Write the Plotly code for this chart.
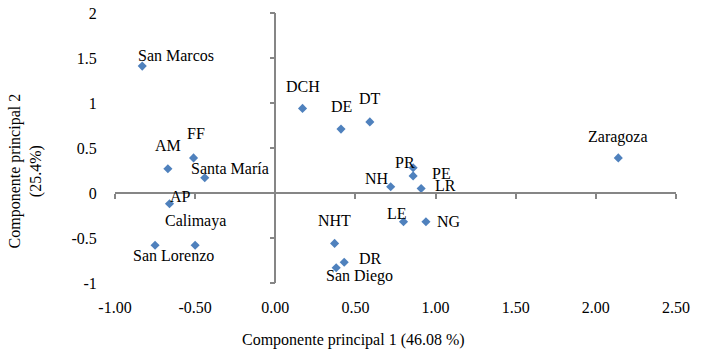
import plotly.graph_objects as go

# Data
names = ["San Marcos", "AM", "FF", "Santa María", "AP", "San Lorenzo", "Calimaya",
         "DCH", "DE", "DT", "PR", "PE", "NH", "LR", "LE", "NG", "NHT", "DR",
         "San Diego", "Zaragoza"]
pc1 = [-0.83, -0.67, -0.51, -0.44, -0.66, -0.75, -0.50,
       0.17, 0.41, 0.59, 0.86, 0.86, 0.72, 0.91, 0.80, 0.94, 0.37, 0.43,
       0.38, 2.14]
pc2 = [1.41, 0.27, 0.39, 0.17, -0.12, -0.58, -0.58,
       0.94, 0.71, 0.79, 0.28, 0.19, 0.07, 0.05, -0.32, -0.32, -0.56, -0.77,
       -0.83, 0.39]
x_ticks = [-1.0, -0.5, 0.0, 0.5, 1.0, 1.5, 2.0, 2.5]
y_ticks = [-1, -0.5, 0, 0.5, 1, 1.5, 2]
x_title = "Componente principal 1 (46.08 %)"
y_title = "Componente principal 2<br>(25.4%)"

# label offsets in pixels (dx right, dy up)
label_offsets = [(34, 11), (0, 23), (2, 24), (25, 9), (11, 7), (18, -10), (0, 24),
                 (0, 22), (0, 23), (0, 23), (-8, 5), (28, 2), (-14, 8), (24, 3),
                 (-7, 8), (23, 0), (0, 23), (26, 4), (23, -8), (0, 21)]

FONT = "'Liberation Serif', 'Times New Roman', 'DejaVu Serif', serif"
AXC = "#868686"
xr = [-1, 2.5]
yr = [-1, 2]

fig = go.Figure()
fig.add_trace(go.Scatter(
    x=pc1, y=pc2, mode="markers",
    marker=dict(symbol="diamond", size=7, color="#4F81BD"),
    hoverinfo="text", text=names, showlegend=False))

for n, x, y, (dx, dy) in zip(names, pc1, pc2, label_offsets):
    fig.add_annotation(x=x, y=y, text=n, showarrow=False, xshift=dx, yshift=dy,
                       font=dict(family=FONT, size=16, color="black"))

fig.add_annotation(xref="paper", yref="paper", x=0.426, y=-0.212, text=x_title,
                   showarrow=False, xanchor="center", yanchor="middle",
                   font=dict(family=FONT, size=16, color="black"))
fig.add_annotation(xref="paper", yref="paper", x=-0.160, y=0.414, text=y_title,
                   showarrow=False, xanchor="center", yanchor="middle", textangle=-90,
                   font=dict(family=FONT, size=16, color="black"))

fig.update_layout(
    width=710, height=354,
    margin=dict(l=115, r=34, t=13, b=71, autoexpand=False),
    paper_bgcolor="white", plot_bgcolor="white",
    font=dict(family=FONT, size=16, color="black"),
    xaxis=dict(range=xr, tickvals=x_ticks, ticktext=[f"{v:.2f}" for v in x_ticks],
               showgrid=False, zeroline=False, showline=False, automargin=False,
               ticks="outside", ticklen=10, tickcolor="rgba(0,0,0,0)"),
    yaxis=dict(range=yr, tickvals=y_ticks, ticktext=[f"{v:g}" for v in y_ticks],
               showgrid=False, zeroline=False, showline=False, automargin=False,
               ticks="outside", ticklen=14, tickcolor="rgba(0,0,0,0)"),
    xaxis2=dict(overlaying="x", anchor="free", position=(0 - yr[0]) / (yr[1] - yr[0]),
                range=xr, tickvals=x_ticks, showticklabels=False, showgrid=False,
                zeroline=False, showline=True, linecolor=AXC, linewidth=1.5,
                automargin=False,
                ticks="outside", ticklen=5, tickcolor=AXC, tickwidth=1.5),
    yaxis2=dict(overlaying="y", anchor="free", position=(0 - xr[0]) / (xr[1] - xr[0]),
                range=yr, tickvals=y_ticks, showticklabels=False, showgrid=False,
                zeroline=False, showline=True, linecolor=AXC, linewidth=1.5,
                automargin=False,
                ticks="outside", ticklen=5, tickcolor=AXC, tickwidth=1.5),
)
fig.add_trace(go.Scatter(x=[], y=[], xaxis="x2", yaxis="y2", showlegend=False))

fig.write_html("out.html", config={"displayModeBar": False},
               post_script="document.body.style.margin='0';")
